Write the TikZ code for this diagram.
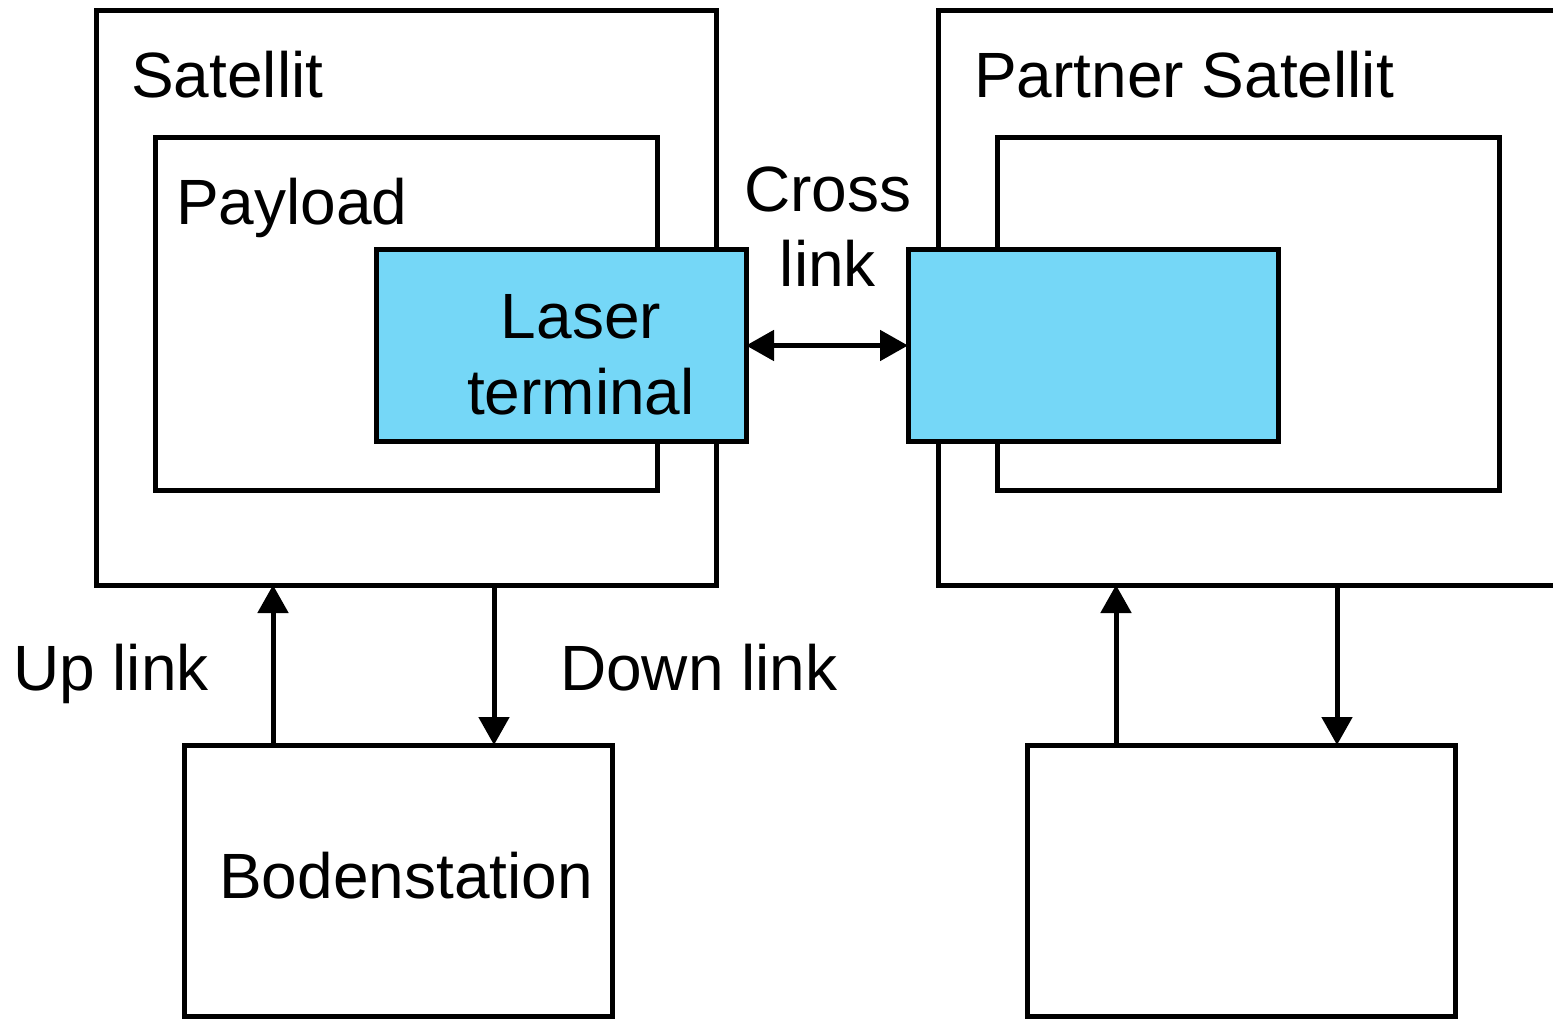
\documentclass[tikz,border=0pt]{standalone}
\usepackage{fontspec}
\setmainfont{Liberation Sans}
\usetikzlibrary{arrows.meta}
\definecolor{lasercyan}{RGB}{117,215,247}
\begin{document}
\begin{tikzpicture}[x=1pt,y=-1pt,
  box/.style={draw=black,line width=5pt,fill=white,outer sep=0pt,inner sep=0pt,anchor=north west},
  laserbox/.style={box,fill=lasercyan},
  lbl/.style={inner sep=0pt,anchor=base west,font=\fontsize{64}{76}\selectfont},
  arr/.style={line width=5pt,-{Triangle[length=28pt,width=30pt]}},
  darr/.style={line width=5pt,{Triangle[length=28pt,width=30pt]}-{Triangle[length=28pt,width=30pt]}}]
\useasboundingbox (0,0) rectangle (1553,1019);
\clip (0,0) rectangle (1553,1019);
% left satellite
\node[box,minimum width=620pt,minimum height=574pt] (sat) at (96,11) {};
\node[box,minimum width=502pt,minimum height=352pt] (pay) at (155,138) {};
\node[laserbox,minimum width=370pt,minimum height=191pt] (lt) at (376,250) {};
% partner satellite
\node[box,minimum width=700pt,minimum height=574pt] (psat) at (938,11) {};
\node[box,minimum width=502pt,minimum height=352pt] (ppay) at (997,138) {};
\node[laserbox,minimum width=370pt,minimum height=191pt] (plt) at (908,250) {};
% ground stations
\node[box,minimum width=428pt,minimum height=271pt] (bod) at (184,745) {};
\node[box,minimum width=428pt,minimum height=271pt] (pbod) at (1027,745) {};
% labels
\node[lbl] (tsat) at (131,98) {Satellit};
\node[lbl] (tpsat) at (974,98) {Partner Satellit};
\node[lbl] (tpay) at (176,225) {Payload};
\node[lbl,anchor=base,align=center] (tlt) at (581,414) {Laser\\terminal};
\node[lbl,anchor=base,align=center] (tcl) at (828,287) {Cross\\link};
\node[lbl] (tup) at (13,690) {Up link};
\node[lbl] (tdown) at (560,690) {Down link};
\node[lbl] (tbod) at (219,898) {Bodenstation};
% connectors
\coordinate (ux) at (273,0);
\coordinate (dx) at (494,0);
\coordinate (pux) at (1116,0);
\coordinate (pdx) at (1337,0);
\draw[arr] (bod.north -| ux) -- (sat.south -| ux);
\draw[arr] (sat.south -| dx) -- (bod.north -| dx);
\draw[arr] (pbod.north -| pux) -- (psat.south -| pux);
\draw[arr] (psat.south -| pdx) -- (pbod.north -| pdx);
\draw[darr] (lt.east) -- (plt.west);
\end{tikzpicture}
\end{document}
